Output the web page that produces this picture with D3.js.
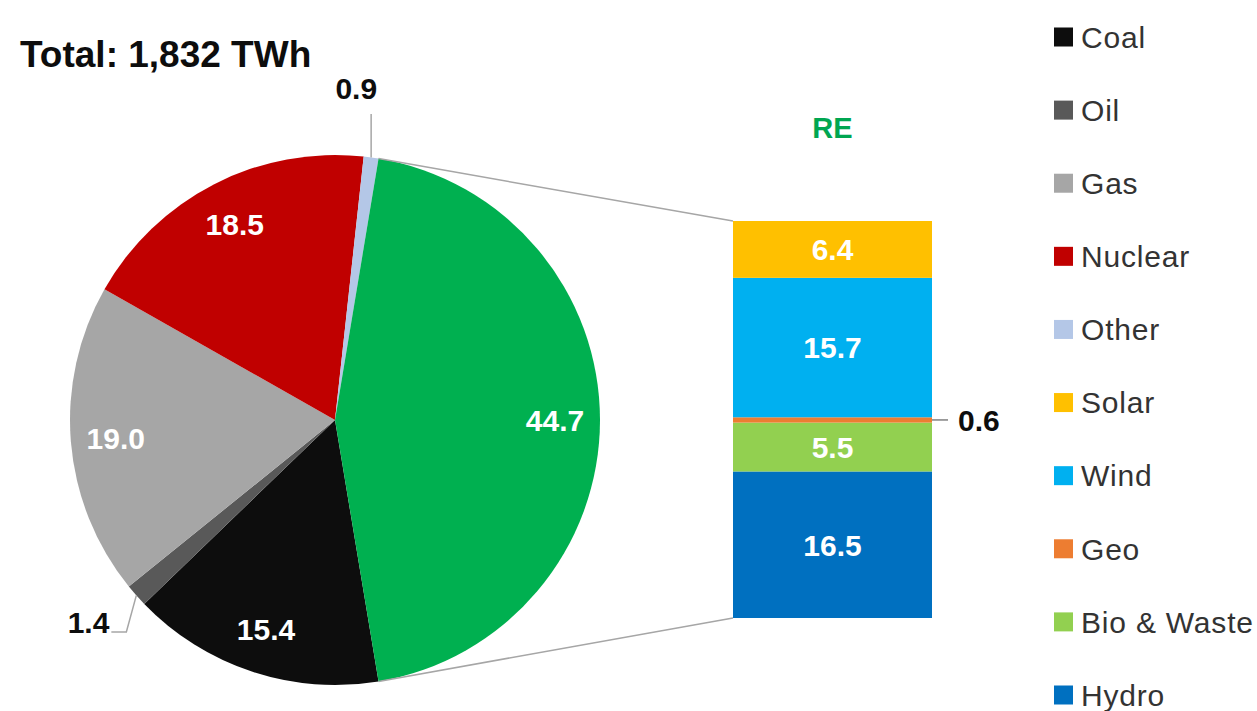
<!DOCTYPE html>
<html>
<head>
<meta charset="utf-8">
<script src="https://cdn.jsdelivr.net/npm/d3@7"></script>
<style>
  html, body { margin: 0; padding: 0; background: #ffffff; }
  svg { display: block; }
</style>
</head>
<body>
<svg id="chart" width="1257" height="711"></svg>
<script>
// ---- Data ----
const pieCategories = ["Coal", "Oil", "Gas", "Nuclear", "Other", "RE"];
const pieValues = [15.4, 1.4, 19.0, 18.5, 0.9, 44.7];
const pieColors = ["#0d0d0d", "#595959", "#a6a6a6", "#c00000", "#b4c7e7", "#00b050"];

const barCategories = ["Hydro", "Bio & Waste", "Geo", "Wind", "Solar"];
const barValues = [16.5, 5.5, 0.6, 15.7, 6.4];
const barColors = ["#0070c0", "#92d050", "#ed7d31", "#00b0f0", "#ffc000"];

const legendCategories = ["Coal", "Oil", "Gas", "Nuclear", "Other", "Solar", "Wind", "Geo", "Bio & Waste", "Hydro"];
const titleText = "Total: 1,832 TWh";
const barTitle = "RE";

// ---- Layout ----
const svg = d3.select("#chart");
const cx = 335, cy = 420, R = 265;
const labelFont = "'Liberation Sans', Arial, sans-serif";

const total = d3.sum(pieValues);
const reIndex = pieCategories.indexOf("RE");
const reFrac = pieValues[reIndex] / total;

// RE slice centered on 3 o'clock; slices run clockwise Coal..Other..RE
const pie = d3.pie().sort(null).value(d => d.v)
  .startAngle(Math.PI / 2 + reFrac * Math.PI)
  .endAngle(Math.PI / 2 + reFrac * Math.PI + 2 * Math.PI);

const pieData = pie(pieCategories.map((c, i) => ({ c, v: pieValues[i], color: pieColors[i] })));
const arc = d3.arc().innerRadius(0).outerRadius(R);
const labelArc = d3.arc().innerRadius(R * 0.83).outerRadius(R * 0.83);

const g = svg.append("g").attr("transform", `translate(${cx},${cy})`);
g.selectAll("path.slice").data(pieData).enter().append("path")
  .attr("class", "slice")
  .attr("d", arc)
  .attr("fill", d => d.data.color);

g.selectAll("text.pl").data(pieData.filter(d => d.data.v >= 5)).enter().append("text")
  .attr("class", "pl")
  .attr("transform", d => `translate(${labelArc.centroid(d)})`)
  .attr("text-anchor", "middle")
  .attr("dy", "0.36em")
  .attr("fill", "#ffffff")
  .attr("font-family", labelFont)
  .attr("font-weight", "bold")
  .attr("font-size", 30)
  .text(d => d.data.v.toFixed(1));

// ---- Bar (stacked RE breakdown) ----
const barX0 = 733, barX1 = 932;
const y = d3.scaleLinear().domain([0, d3.sum(barValues)]).range([618, 221]);
let acc = 0;
const barData = barValues.map((v, i) => {
  const d = { c: barCategories[i], v, y0: acc, y1: acc + v, color: barColors[i] };
  acc += v;
  return d;
});

svg.selectAll("rect.seg").data(barData).enter().append("rect")
  .attr("class", "seg")
  .attr("x", barX0)
  .attr("width", barX1 - barX0)
  .attr("y", d => y(d.y1))
  .attr("height", d => y(d.y0) - y(d.y1))
  .attr("fill", d => d.color);

svg.selectAll("text.bl").data(barData.filter(d => d.v >= 2)).enter().append("text")
  .attr("class", "bl")
  .attr("x", (barX0 + barX1) / 2)
  .attr("y", d => (y(d.y0) + y(d.y1)) / 2)
  .attr("dy", "0.36em")
  .attr("text-anchor", "middle")
  .attr("fill", "#ffffff")
  .attr("font-family", labelFont)
  .attr("font-weight", "bold")
  .attr("font-size", 30)
  .text(d => d.v.toFixed(1));

barData.filter(d => d.v < 2).forEach(d => {
  const ym = (y(d.y0) + y(d.y1)) / 2;
  svg.append("line")
    .attr("x1", barX1).attr("x2", barX1 + 16)
    .attr("y1", ym).attr("y2", ym)
    .attr("stroke", "#808080").attr("stroke-width", 1.5);
  svg.append("text")
    .attr("x", barX1 + 26).attr("y", ym).attr("dy", "0.36em")
    .attr("fill", "#0d0d0d")
    .attr("font-family", labelFont).attr("font-weight", "bold").attr("font-size", 30)
    .text(d.v.toFixed(1));
});

// ---- Connector lines (RE slice to bar) ----
const reArc = pieData[reIndex];
function edgePoint(a) { return [cx + R * Math.sin(a), cy - R * Math.cos(a)]; }
const pTop = edgePoint(reArc.startAngle);
const pBot = edgePoint(reArc.endAngle);
svg.append("line")
  .attr("x1", pTop[0]).attr("y1", pTop[1]).attr("x2", barX0).attr("y2", y(d3.sum(barValues)))
  .attr("stroke", "#a6a6a6").attr("stroke-width", 1.5);
svg.append("line")
  .attr("x1", pBot[0]).attr("y1", pBot[1]).attr("x2", barX0).attr("y2", y(0))
  .attr("stroke", "#a6a6a6").attr("stroke-width", 1.5);

// ---- Outside labels for small pie slices ----
const other = pieData[pieCategories.indexOf("Other")];
const oa = (other.startAngle + other.endAngle) / 2;
const op = edgePoint(oa);
svg.append("line")
  .attr("x1", op[0]).attr("y1", op[1]).attr("x2", op[0]).attr("y2", 114)
  .attr("stroke", "#a6a6a6").attr("stroke-width", 1.5);
svg.append("text")
  .attr("x", op[0] + 6).attr("y", 99)
  .attr("text-anchor", "end")
  .attr("fill", "#0d0d0d")
  .attr("font-family", labelFont).attr("font-weight", "bold").attr("font-size", 30)
  .text(other.data.v.toFixed(1));

const oil = pieData[pieCategories.indexOf("Oil")];
const oilA = (oil.startAngle + oil.endAngle) / 2;
const oilP = edgePoint(oilA);
svg.append("polyline")
  .attr("points", `${oilP[0]},${oilP[1]} ${oilP[0] - 10},${632} ${oilP[0] - 25},${632}`)
  .attr("fill", "none")
  .attr("stroke", "#a6a6a6").attr("stroke-width", 1.5);
svg.append("text")
  .attr("x", oilP[0] - 27).attr("y", 633)
  .attr("text-anchor", "end")
  .attr("fill", "#0d0d0d")
  .attr("font-family", labelFont).attr("font-weight", "bold").attr("font-size", 30)
  .text(oil.data.v.toFixed(1));

// ---- Titles ----
svg.append("text")
  .attr("x", 20).attr("y", 67)
  .attr("fill", "#0d0d0d")
  .attr("font-family", labelFont).attr("font-weight", "bold").attr("font-size", 37)
  .text(titleText);

svg.append("text")
  .attr("x", (barX0 + barX1) / 2).attr("y", 138)
  .attr("text-anchor", "middle")
  .attr("fill", "#00a651")
  .attr("font-family", labelFont).attr("font-weight", "bold").attr("font-size", 29)
  .text(barTitle);

// ---- Legend ----
const colorOf = {};
pieCategories.forEach((c, i) => colorOf[c] = pieColors[i]);
barCategories.forEach((c, i) => colorOf[c] = barColors[i]);
const ly = d3.scalePoint().domain(legendCategories).range([37, 695]);
const items = svg.append("g").selectAll("g.item").data(legendCategories).enter().append("g")
  .attr("class", "item")
  .attr("transform", d => `translate(1054,${ly(d)})`);
items.append("rect")
  .attr("x", 0).attr("y", -9.5).attr("width", 19).attr("height", 19)
  .attr("fill", d => colorOf[d]);
items.append("text")
  .attr("x", 27).attr("y", 0).attr("dy", "0.36em")
  .attr("fill", "#333333")
  .attr("font-family", labelFont).attr("font-size", 30)
  .attr("letter-spacing", 0.8)
  .text(d => d);
</script>
</body>
</html>
